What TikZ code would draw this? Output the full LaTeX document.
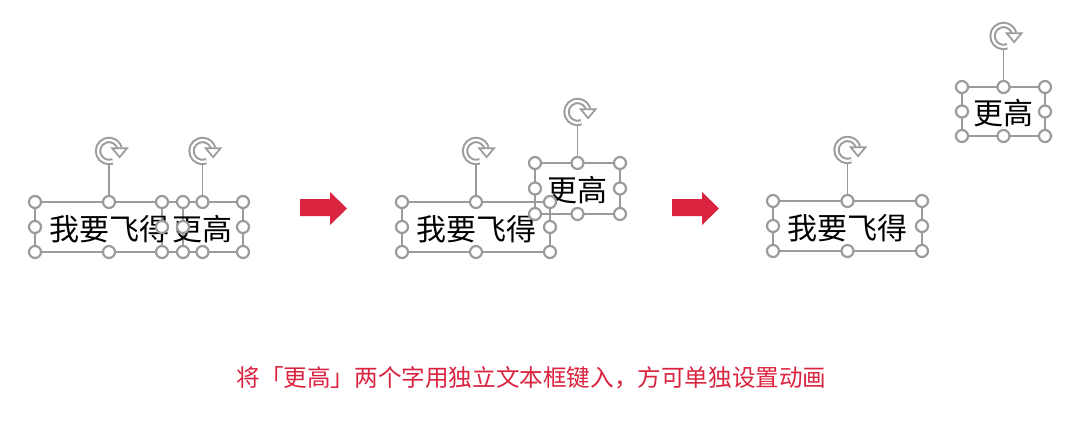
\documentclass[tikz,border=0pt]{standalone}
\usepackage{fontspec}
\setmainfont{Noto Sans CJK SC}
\usetikzlibrary{calc}
\definecolor{hgray}{RGB}{155,155,155}
\definecolor{cred}{RGB}{218,35,63}
\begin{document}
\begin{tikzpicture}[x=1pt,y=-1pt,
  tbox/.style={draw=hgray, line width=1.6pt, inner sep=0pt, outer sep=0pt},
  boxtext/.style={font=\fontsize{30}{30}\selectfont, yshift=-2pt},
  handle/.style={circle, draw=hgray, line width=2.2pt, fill=white, minimum size=12pt, inner sep=0pt},
  stem/.style={draw=hgray, line width=1.6pt},
  roticon/.pic={
    \draw[hgray, line width=2pt, double=white, double distance=2.3pt] (70:11) arc[start angle=70, end angle=345, radius=11];
    \draw[hgray, line width=1.7pt, fill=white, line join=miter] ($(345:11)+(-7.5,0)$) -- ($(345:11)+(7.5,0)$) -- ($(345:11)+(0,9)$) -- cycle;
  },
  blockarrow/.style={fill=cred}
]
\fill[white] (0,0) rectangle (1080,428);
\useasboundingbox (0,0) rectangle (1080,428);

% ---------- helper ----------
\newcommand\rotbox[5]{%
  \coordinate (#1-rc) at (#2,{#3-#5/2-51});
  \draw[stem] (#2,{#3-#5/2}) -- ($(#1-rc)+(0,13.5)$);
  \pic at (#1-rc) {roticon};
  \node[tbox, minimum width=#4pt, minimum height=#5pt] (#1) at (#2,#3) {};
}
\newcommand\handlesof[1]{%
  \foreach \a in {north west,north,north east,west,east,south west,south,south east}
    \node[handle] (#1-\a) at (#1.\a) {};
}

% ---------- panel 1 ----------
\rotbox{pa}{109}{227}{148}{50}
\rotbox{pb}{202.5}{227}{81}{50}
\node[boxtext] (ta) at (pa) {我要飞得};
\node[boxtext] (tb) at (pb) {更高};
\handlesof{pa}
\handlesof{pb}

% arrow 1
\fill[blockarrow] (300,199) -- (330,199) -- (330,192) -- (347,208.5) -- (330,225) -- (330,216) -- (300,216) -- cycle;

% ---------- panel 2 ----------
\rotbox{qa}{476}{227}{148}{50}
\rotbox{qb}{577.5}{188.5}{85}{51}
\node[boxtext] (tqa) at (qa) {我要飞得};
\node[boxtext] (tqb) at (qb) {更高};
\handlesof{qa}
\handlesof{qb}

% arrow 2
\fill[blockarrow] (672,199) -- (702,199) -- (702,192) -- (719,208.5) -- (702,225) -- (702,216) -- (672,216) -- cycle;

% ---------- panel 3 ----------
\rotbox{ra}{847.5}{226}{149}{50}
\rotbox{rb}{1003.5}{111.5}{83}{49}
\node[boxtext] (tra) at (ra) {我要飞得};
\node[boxtext] (trb) at (rb) {更高};
\handlesof{ra}
\handlesof{rb}

% ---------- caption ----------
\node[font=\fontsize{23.6}{23.6}\selectfont, text=cred, inner sep=0pt] (cap) at (531.5,378) {将「更高」两个字用独立文本框键入，方可单独设置动画};
\end{tikzpicture}
\end{document}
